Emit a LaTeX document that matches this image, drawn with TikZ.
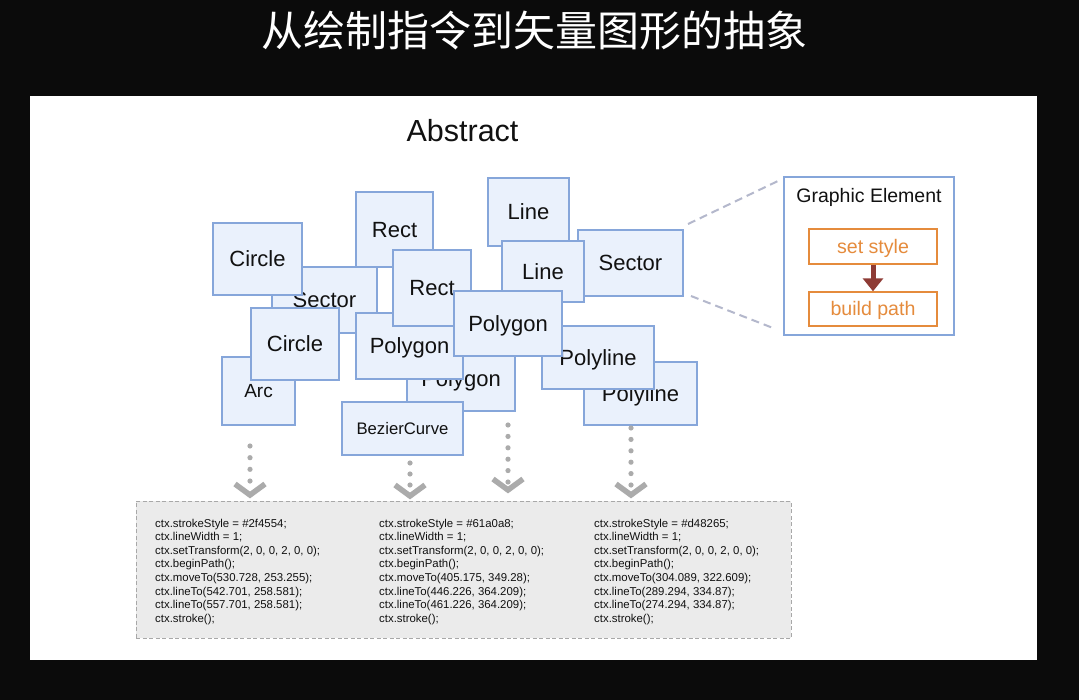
\documentclass[tikz,border=0pt]{standalone}
\usepackage{fontspec}
\setmainfont{Liberation Sans}
\newfontfamily\cjk{Noto Sans CJK SC}
\usetikzlibrary{arrows.meta}
\definecolor{bgc}{HTML}{0B0B0B}
\definecolor{boxf}{HTML}{EAF1FC}
\definecolor{boxb}{HTML}{86A6DA}
\definecolor{txt}{HTML}{111111}
\definecolor{org}{HTML}{E58B3C}
\definecolor{darkred}{HTML}{8E3B35}
\definecolor{codef}{HTML}{EBEBEB}
\definecolor{codeb}{HTML}{A8A8A8}
\definecolor{dotc}{HTML}{ABABAB}
\definecolor{gdashc}{HTML}{B4B8CC}
\tikzset{
  shp/.style={draw=boxb, fill=boxf, line width=1.1pt, inner sep=0pt, text=txt,
    font=\fontsize{22}{26}\selectfont, text height=15.8pt, text depth=0pt},
  shpsmall/.style={font=\fontsize{19}{22}\selectfont, text height=13.6pt},
  shptiny/.style={font=\fontsize{16.7}{20}\selectfont, text height=12pt},
  obox/.style={draw=org, fill=white, line width=1.4pt, inner sep=0pt, text=org,
    minimum width=128pt, font=\fontsize{19.6}{23}\selectfont, text height=14pt, text depth=0pt},
  code/.style={anchor=base west, inner sep=0pt, text=txt, font=\fontsize{11.4}{13.6}\selectfont},
  chev/.style={draw=dotc, line width=5.5pt, line join=miter},
  gdash/.style={draw=gdashc, line width=2pt, dash pattern=on 8pt off 5pt}
}
\begin{document}
\begin{tikzpicture}[x=1pt,y=-1pt]
\useasboundingbox (0,0) rectangle (1079,700);
\fill[bgc] (0,0) rectangle (1079,700);
\node[anchor=base, text=white, inner sep=0pt, font=\cjk\fontsize{42}{46}\selectfont] (title) at (534,47) {从绘制指令到矢量图形的抽象};
\fill[white] (30,96) rectangle (1037,660);
\node[anchor=base, text=txt, inner sep=0pt, font=\fontsize{30.5}{34}\selectfont] (abs) at (462.5,142) {Abstract};

% shapes, back to front
\node[shp, shpsmall, minimum width=73pt, minimum height=68pt] (arc) at (258.5,391) {Arc};
\node[shp, minimum width=105pt, minimum height=66pt] (sec1) at (324.5,300) {Sector};
\node[shp, minimum width=89pt, minimum height=72pt] (cir1) at (257.5,259) {Circle};
\node[shp, minimum width=88pt, minimum height=72pt] (cir2) at (295,344) {Circle};
\node[shp, minimum width=77pt, minimum height=75pt] (rect1) at (394.5,229.5) {Rect};
\node[shp, minimum width=108pt, minimum height=64pt] (pgn2) at (461,379) {Polygon};
\node[shp, shptiny, minimum width=121pt, minimum height=53pt] (bez) at (402.5,428.5) {BezierCurve};
\node[shp, minimum width=107pt, minimum height=66pt] (pgn1) at (409.5,346) {Polygon};
\node[shp, minimum width=78pt, minimum height=76pt] (rect2) at (432,288) {Rect};
\node[shp, minimum width=105pt, minimum height=66pt] (sec2) at (630.5,263) {Sector};
\node[shp, minimum width=81pt, minimum height=68pt] (line1) at (528.5,212) {Line};
\node[shp, minimum width=82pt, minimum height=61pt] (line2) at (543,271.5) {Line};
\node[shp, minimum width=113pt, minimum height=63pt] (pl2) at (640.5,393.5) {Polyline};
\node[shp, minimum width=112pt, minimum height=63pt] (pl1) at (598,357.5) {Polyline};
\node[shp, minimum width=108pt, minimum height=65pt] (pgn3) at (508,323.5) {Polygon};

% graphic element panel
\node[draw=boxb, fill=white, line width=1.5pt, minimum width=170pt, minimum height=158pt, inner sep=0pt] (ge) at (869,256) {};
\node[inner sep=0pt, text=txt, font=\fontsize{19.5}{23}\selectfont, text height=14pt, text depth=0pt] (getitle) at (869,196) {Graphic Element};
\node[obox, minimum height=35pt] (ss) at (873,246.5) {set style};
\node[obox, minimum height=34pt] (bp) at (873,309) {build path};
\draw[darkred, line width=5pt, -{Triangle[width=20pt,length=13pt]}] (ss.south) -- (bp.north);

\coordinate (u1) at (688,224); \coordinate (u2) at (778,181);
\coordinate (l1) at (691,296); \coordinate (l2) at (773,328);
\draw[gdash] (u1) -- (u2);
\draw[gdash] (l1) -- (l2);

% code box
\node[draw=codeb, fill=codef, line width=1pt, dash pattern=on 4pt off 2.5pt, minimum width=655pt, minimum height=137pt, inner sep=0pt] (cb) at (463.5,569.5) {};
\foreach \t [count=\i] in {{ctx.strokeStyle = \#2f4554;},{ctx.lineWidth = 1;},{ctx.setTransform(2, 0, 0, 2, 0, 0);},{ctx.beginPath();},{ctx.moveTo(530.728, 253.255);},{ctx.lineTo(542.701, 258.581);},{ctx.lineTo(557.701, 258.581);},{ctx.stroke();}}
  \node[code] (ca\i) at (155,{527+13.6*(\i-1)}) {\t};
\foreach \t [count=\i] in {{ctx.strokeStyle = \#61a0a8;},{ctx.lineWidth = 1;},{ctx.setTransform(2, 0, 0, 2, 0, 0);},{ctx.beginPath();},{ctx.moveTo(405.175, 349.28);},{ctx.lineTo(446.226, 364.209);},{ctx.lineTo(461.226, 364.209);},{ctx.stroke();}}
  \node[code] (cbb\i) at (379,{527+13.6*(\i-1)}) {\t};
\foreach \t [count=\i] in {{ctx.strokeStyle = \#d48265;},{ctx.lineWidth = 1;},{ctx.setTransform(2, 0, 0, 2, 0, 0);},{ctx.beginPath();},{ctx.moveTo(304.089, 322.609);},{ctx.lineTo(289.294, 334.87);},{ctx.lineTo(274.294, 334.87);},{ctx.stroke();}}
  \node[code] (cc\i) at (594,{527+13.6*(\i-1)}) {\t};

% dotted arrows
\foreach \k in {0,...,3} \fill[dotc] (250,{446+11.67*\k}) circle[radius=2.6pt];
\coordinate (v1) at (250,495);
\draw[chev] ([shift={(-15,-11)}]v1) -- (v1) -- ([shift={(15,-11)}]v1);
\foreach \k in {0,...,2} \fill[dotc] (410,{463+11*\k}) circle[radius=2.6pt];
\coordinate (v2) at (410,496);
\draw[chev] ([shift={(-15,-11)}]v2) -- (v2) -- ([shift={(15,-11)}]v2);
\foreach \k in {0,...,5} \fill[dotc] (508,{425+11.4*\k}) circle[radius=2.6pt];
\coordinate (v3) at (508,490);
\draw[chev] ([shift={(-15,-11)}]v3) -- (v3) -- ([shift={(15,-11)}]v3);
\foreach \k in {0,...,5} \fill[dotc] (631,{428+11.4*\k}) circle[radius=2.6pt];
\coordinate (v4) at (631,495);
\draw[chev] ([shift={(-15,-11)}]v4) -- (v4) -- ([shift={(15,-11)}]v4);
\end{tikzpicture}
\end{document}
